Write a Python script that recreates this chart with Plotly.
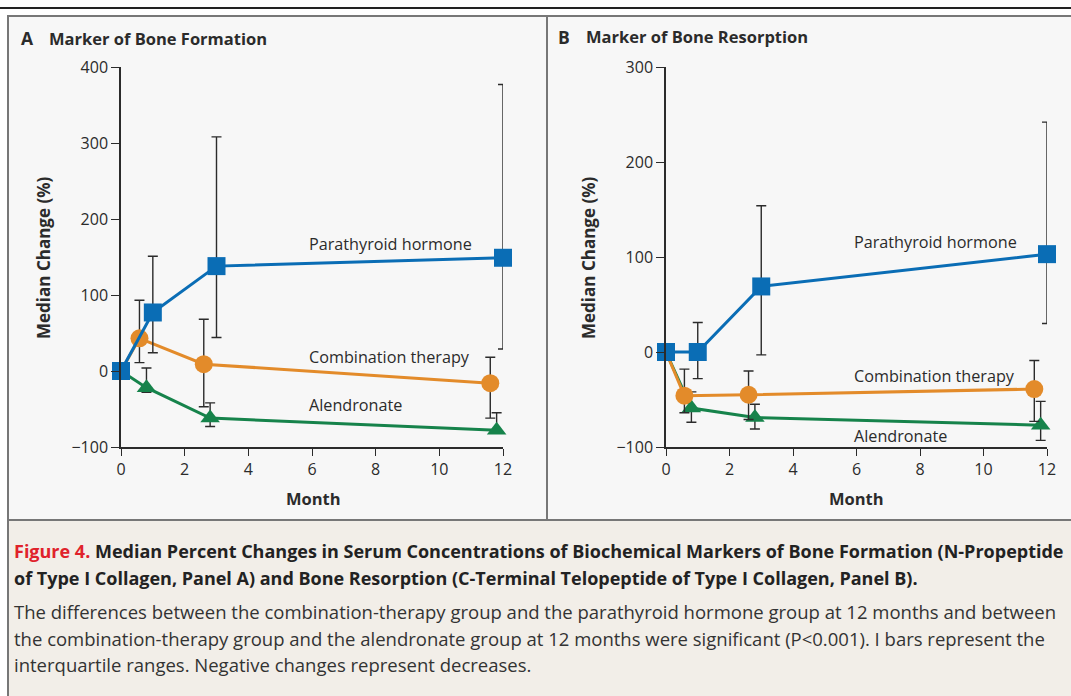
import plotly.graph_objects as go

W, H = 1071, 696

# ---------------- data ----------------
month_pth = [0, 1, 3, 12]
month_comb = [0, 0.58, 2.6, 11.6]
month_alen = [0, 0.8, 2.8, 11.8]

# Panel A: bone formation
A_pth = [0, 77, 138, 149]
A_pth_hi = [0, 151, 308, 377]
A_pth_lo = [0, 24, 44, 29]
A_comb = [0, 43, 9, -16]
A_comb_hi = [0, 93, 68, 18]
A_comb_lo = [0, 11, -47, -62]
A_alen = [0, -22, -62, -78]
A_alen_hi = [0, 4, -42, -55]
A_alen_lo = [0, -28, -73, -82]

# Panel B: bone resorption
B_pth = [0, 0, 69, 103]
B_pth_hi = [0, 31, 154, 242]
B_pth_lo = [0, -28, -3, 30]
B_comb = [0, -46, -45, -39]
B_comb_hi = [0, -18, -20, -9]
B_comb_lo = [0, -64, -71, -73]
B_alen = [0, -59, -69, -77]
B_alen_hi = [0, -42, -55, -52]
B_alen_lo = [0, -74, -81, -93]

x_ticks = [0, 2, 4, 6, 8, 10, 12]
A_yticks = [-100, 0, 100, 200, 300, 400]
B_yticks = [-100, 0, 100, 200, 300]

BLUE = "#0a6db5"
ORANGE = "#e38b2a"
GREEN = "#16834b"
INK = "#2b2b2b"
FONT = "Open Sans"


def px(x):
    return x / W


def py(y):
    return 1 - y / H


fig = go.Figure()


def add_series(xs, ys, hi, lo, color, symbol, size, xa, ya, first_marker):
    fig.add_trace(go.Scatter(
        x=xs, y=ys, mode="lines", line=dict(color=color, width=3),
        xaxis=xa, yaxis=ya, hoverinfo="skip", showlegend=False, cliponaxis=False))
    s = 0 if first_marker else 1
    xm, ym = xs[s:], ys[s:]
    up = [h - v for h, v in zip(hi[s:], ym)]
    dn = [v - l for v, l in zip(ym, lo[s:])]
    fig.add_trace(go.Scatter(
        x=xm, y=ym, mode="markers",
        marker=dict(color=color, symbol=symbol, size=size, line=dict(width=0)),
        error_y=dict(type="data", array=up, arrayminus=dn, color=INK,
                     thickness=1.4, width=5),
        xaxis=xa, yaxis=ya, showlegend=False, cliponaxis=False))


for (xa, ya, pth, pth_hi, pth_lo, comb, comb_hi, comb_lo, alen, alen_hi, alen_lo) in [
    ("x", "y", A_pth, A_pth_hi, A_pth_lo, A_comb, A_comb_hi, A_comb_lo, A_alen, A_alen_hi, A_alen_lo),
    ("x2", "y2", B_pth, B_pth_hi, B_pth_lo, B_comb, B_comb_hi, B_comb_lo, B_alen, B_alen_hi, B_alen_lo),
]:
    add_series(month_alen, alen, alen_hi, alen_lo, GREEN, "triangle-up", 17, xa, ya, False)
    add_series(month_comb, comb, comb_hi, comb_lo, ORANGE, "circle", 18, xa, ya, False)
    add_series(month_pth, pth, pth_hi, pth_lo, BLUE, "square", 18, xa, ya, True)

axis_common = dict(showgrid=False, zeroline=False, showline=True, linecolor=INK,
                   linewidth=1.5, ticks="outside", tickwidth=1.3,
                   tickcolor=INK, tickfont=dict(family=FONT, size=16, color=INK))

fig.update_layout(
    autosize=True, margin=dict(l=0, r=0, t=0, b=0, autoexpand=False),
    paper_bgcolor="white", plot_bgcolor="rgba(0,0,0,0)",
    xaxis=dict(domain=[px(121), px(503)], range=[0, 12], tickvals=x_ticks,
               anchor="y", ticklen=7, **axis_common),
    yaxis=dict(domain=[py(447), py(67)], range=[-100, 400], tickvals=A_yticks,
               anchor="x", ticklen=8, **axis_common),
    xaxis2=dict(domain=[px(666), px(1047)], range=[0, 12], tickvals=x_ticks,
                anchor="y2", ticklen=7, **axis_common),
    yaxis2=dict(domain=[py(447), py(67)], range=[-100, 300], tickvals=B_yticks,
                anchor="x2", ticklen=8, **axis_common),
)

shapes = []
shapes.append(dict(type="line", xref="paper", yref="paper", x0=0, x1=1,
                   y0=py(8), y1=py(8), line=dict(color="#222", width=2)))
shapes.append(dict(type="rect", xref="paper", yref="paper", x0=px(8), x1=px(1100),
                   y0=py(520), y1=py(16), fillcolor="#f7f7f7",
                   line=dict(color="#777", width=2), layer="below"))
shapes.append(dict(type="line", xref="paper", yref="paper", x0=px(547), x1=px(547),
                   y0=py(520), y1=py(16), line=dict(color="#777", width=2), layer="below"))
shapes.append(dict(type="rect", xref="paper", yref="paper", x0=px(8), x1=px(1100),
                   y0=py(730), y1=py(520), fillcolor="#f2eee8",
                   line=dict(color="#777", width=2), layer="below"))
fig.update_layout(shapes=shapes)

ann = []


def text(x, y, s, size=15, bold=False, xanchor="left", angle=0, color=INK):
    ann.append(dict(xref="paper", yref="paper", x=px(x), y=py(y), text=(f"<b>{s}</b>" if bold else s),
                    showarrow=False, xanchor=xanchor, yanchor="middle", textangle=angle,
                    font=dict(family=FONT, size=size, color=color)))


text(19, 38, "A", size=17.5, bold=True)
text(47, 38, "Marker of Bone Formation", size=16.5, bold=True)
text(556, 37, "B", size=17.5, bold=True)
text(584, 37, "Marker of Bone Resorption", size=16.5, bold=True)
text(43, 258, "Median Change (%)", size=17, bold=True, xanchor="center", angle=-90)
text(588, 258, "Median Change (%)", size=17, bold=True, xanchor="center", angle=-90)
text(313, 498, "Month", size=16.5, bold=True, xanchor="center")
text(856, 498, "Month", size=16.5, bold=True, xanchor="center")
text(307, 244, "Parathyroid hormone", size=16.2)
text(307, 357, "Combination therapy", size=16.2)
text(307, 405, "Alendronate", size=16.2)
text(852, 242, "Parathyroid hormone", size=16.2)
text(852, 376, "Combination therapy", size=16.2)
text(852, 436, "Alendronate", size=16.2)

cap1 = ("<span style='color:#e0222b'>Figure 4.</span> Median Percent Changes in Serum Concentrations "
        "of Biochemical Markers of Bone Formation (N-Propeptide")
cap2 = "of Type I Collagen, Panel A) and Bone Resorption (C-Terminal Telopeptide of Type I Collagen, Panel B)."
cap3 = ("The differences between the combination-therapy group and the parathyroid hormone group "
        "at 12 months and between")
cap4 = ("the combination-therapy group and the alendronate group at 12 months were significant "
        "(P&lt;0.001). I bars represent the")
cap5 = "interquartile ranges. Negative changes represent decreases."
text(12, 551, cap1, size=18, bold=True, color="#222")
text(12, 578, cap2, size=18, bold=True, color="#222")
text(12, 611, cap3, size=18.5, color="#333")
text(12, 638, cap4, size=18.5, color="#333")
text(12, 664, cap5, size=18.5, color="#333")

fig.update_layout(annotations=ann)
fig.write_html(
    "out.html",
    default_width="100vw", default_height="100vh",
    config={"displayModeBar": False, "responsive": True},
    post_script="document.body.style.margin='0';document.body.style.overflow='hidden';"
                "window.dispatchEvent(new Event('resize'));",
)
